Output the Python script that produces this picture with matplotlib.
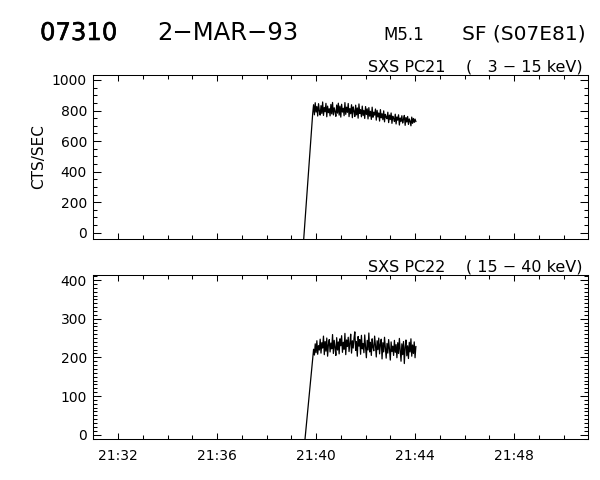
import datetime as dt

import matplotlib
matplotlib.use("Agg")
import matplotlib.dates as mdates
import matplotlib.patheffects as pe
import matplotlib.pyplot as plt
from matplotlib.ticker import MultipleLocator

plt.rcParams["font.family"] = ["DejaVu Sans"]

# --- data --------------------------------------------------------------
DAY = "1993-03-02"
X_START, X_END = "21:31:00", "21:51:00"
X_MAJOR = ["21:32", "21:36", "21:40", "21:44", "21:48"]

# last sample before the data gap (falls below the plotted range)
GAP_TIME_PC21, GAP_VALUE_PC21 = "21:39:30", -45
GAP_TIME_PC22, GAP_VALUE_PC22 = "21:39:33", -14

# flare samples, 2 s cadence from 21:39:52
SAMPLE_START = "21:39:52"
SAMPLE_STEP_S = 2

pc21 = [
    785, 838, 772, 851, 790, 826, 764, 845, 798, 770,
    832, 781, 856, 768, 820, 792, 847, 759, 829, 786,
    812, 765, 840, 778, 853, 771, 818, 794, 762, 836,
    783, 848, 770, 829, 757, 841, 790, 815, 766, 852,
    775, 822, 788, 846, 760, 813, 779, 838, 753, 824,
    797, 761, 835, 772, 817, 750, 843, 781, 806, 759,
    829, 768, 801, 748, 826, 774, 811, 745, 819, 763,
    795, 742, 822, 756, 789, 770, 810, 737, 801, 758,
    784, 731, 806, 752, 779, 740, 798, 726, 775, 757,
    746, 789, 721, 770, 741, 784, 716, 763, 749, 728,
    776, 712, 758, 737, 772, 705, 751, 729, 766, 718,
    742, 768, 703, 754, 725, 761, 709, 745, 731, 700,
    757, 716, 748, 722, 744, 728,
]

pc22 = [
    198, 221, 206, 235, 212, 243, 208, 230, 219, 247,
    211, 238, 224, 255, 207, 241, 216, 250, 203, 233,
    246, 214, 237, 222, 259, 210, 244, 226, 205, 251,
    219, 240, 209, 248, 230, 256, 213, 239, 221, 262,
    207, 245, 228, 252, 215, 236, 260, 211, 243, 224,
    249, 266, 218, 241, 203, 254, 229, 246, 208, 257,
    222, 236, 212, 258, 226, 199, 244, 219, 263, 214,
    239, 205, 248, 226, 217, 255, 231, 201, 243, 220,
    250, 209, 234, 247, 196, 238, 214, 252, 225, 198,
    236, 211, 246, 221, 193, 240, 215, 229, 205, 244,
    213, 233, 199, 238, 210, 249, 218, 190, 235, 207,
    241, 184, 226, 245, 204, 230, 197, 239, 214, 248,
    203, 232, 210, 240, 199, 228,
]


def at(hms):
    return dt.datetime.fromisoformat(f"{DAY} {hms}")


def sample_times(n):
    t0 = at(SAMPLE_START)
    return [t0 + dt.timedelta(seconds=SAMPLE_STEP_S * i) for i in range(n)]


def draw_panel(ax, gap_time, gap_value, values, ylim, major, minor, label,
               show_xlabels):
    times = [at(gap_time)] + sample_times(len(values))
    ax.plot(times, [gap_value] + values, color="black", lw=0.9)
    ax.set_xlim(at(X_START), at(X_END))
    ax.set_ylim(*ylim)

    ax.xaxis.set_major_locator(mdates.MinuteLocator(byminute=[int(m[3:]) for m in X_MAJOR]))
    ax.xaxis.set_minor_locator(mdates.MinuteLocator())
    ax.xaxis.set_major_formatter(mdates.DateFormatter("%H:%M"))
    ax.yaxis.set_major_locator(MultipleLocator(major))
    ax.yaxis.set_minor_locator(MultipleLocator(minor))

    ax.tick_params(axis="x", which="major", direction="in", length=4.3,
                   width=0.75, top=True, pad=7, labelsize=10,
                   labelbottom=show_xlabels)
    ax.tick_params(axis="x", which="minor", direction="in", length=2.9,
                   width=0.75, top=True)
    ax.tick_params(axis="y", which="major", direction="in", length=5.8,
                   width=0.75, right=True, pad=4.5, labelsize=10)
    ax.tick_params(axis="y", which="minor", direction="in", length=3.2,
                   width=0.75, right=True)
    for spine in ax.spines.values():
        spine.set_linewidth(0.75)

    ax.text(0.989, 1.022, label, transform=ax.transAxes, ha="right",
            va="baseline", fontsize=11.5)


fig = plt.figure(figsize=(6, 4.8), dpi=100)
ax_top = fig.add_axes([0.1555, 0.5015, 0.825, 0.343])
ax_bot = fig.add_axes([0.1555, 0.0848, 0.825, 0.343])

draw_panel(ax_top, GAP_TIME_PC21, GAP_VALUE_PC21, pc21, (-43, 1035), 200, 50,
           "SXS PC21    (   3 − 15 keV)", False)
draw_panel(ax_bot, GAP_TIME_PC22, GAP_VALUE_PC22, pc22, (-12, 414), 100, 10,
           "SXS PC22    ( 15 − 40 keV)", True)

fig.text(39 / 600, 1 - 157 / 480, "CTS/SEC", rotation=90, ha="center",
         va="center", fontsize=11)

fig.text(40 / 600, 1 - 40 / 480, "07310", fontsize=17.5, va="baseline",
         path_effects=[pe.withStroke(linewidth=0.4, foreground="black")])
fig.text(157 / 600, 1 - 40 / 480, "2−MAR−93", fontsize=17.5, va="baseline")
fig.text(383 / 600, 1 - 40 / 480, "M5.1", fontsize=12, va="baseline")
fig.text(586 / 600, 1 - 40 / 480, "SF (S07E81)", fontsize=14.5, ha="right",
         va="baseline")

fig.savefig("out.png", dpi=100)
